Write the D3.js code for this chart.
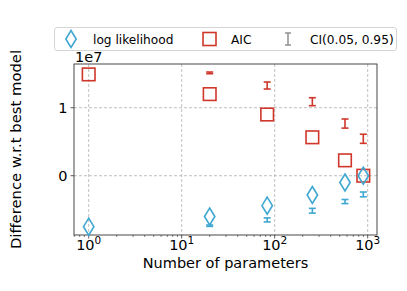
<!DOCTYPE html>
<html>
<head>
<meta charset="utf-8">
<script src="https://cdn.jsdelivr.net/npm/d3@7"></script>
<style>
  html, body { margin: 0; padding: 0; background: #fff; }
  svg { display: block; font-family: "DejaVu Sans", sans-serif; }
</style>
</head>
<body>
<div id="chart"></div>
<script>
// Number of parameters per model
var params = [1, 20, 83, 254, 570, 897];
// AIC difference w.r.t. best model (1e7 units)
var aic = [1.49, 1.20, 0.90, 0.565, 0.226, 0.0];
// log likelihood difference (1e7 units)
var logLik = [-0.75, -0.60, -0.44, -0.284, -0.10, 0.0];
// CI(0.05, 0.95) bounds, null where no bar is drawn
var aicLo = [null, 1.50, 1.275, 1.03, 0.70, 0.476];
var aicHi = [null, 1.525, 1.378, 1.147, 0.834, 0.61];
var llLo = [null, -0.745, -0.68, -0.55, -0.41, -0.31];
var llHi = [null, -0.725, -0.62, -0.48, -0.35, -0.24];
var xTicks = [1, 10, 100, 1000];
var yTicks = [0, 1];

var W = 407, H = 291;
var m = { left: 74, right: 30, top: 64, bottom: 56 };
var blue = '#3fa7d1', red = '#d0372a';

var svg = d3.select('#chart').append('svg')
    .attr('width', W).attr('height', H);

var x = d3.scaleLog().domain([0.695, 1259]).range([m.left, W - m.right]);
var y = d3.scaleLinear().domain([-0.872, 1.643]).range([H - m.bottom, m.top]);

// grid
var grid = svg.append('g');
grid.selectAll('line.gx').data(xTicks).enter().append('line')
    .attr('x1', function (d) { return x(d); }).attr('x2', function (d) { return x(d); })
    .attr('y1', m.top).attr('y2', H - m.bottom)
    .attr('stroke', '#b0b0b0').attr('stroke-width', 0.8).attr('stroke-dasharray', '3,2');
grid.selectAll('line.gy').data(yTicks).enter().append('line')
    .attr('y1', function (d) { return y(d); }).attr('y2', function (d) { return y(d); })
    .attr('x1', m.left).attr('x2', W - m.right)
    .attr('stroke', '#b0b0b0').attr('stroke-width', 0.8).attr('stroke-dasharray', '3,2');

// x axis with minor ticks
var minor = [];
[0.1, 1, 10, 100, 1000].forEach(function (b) {
    for (var k = 2; k <= 9; k++) {
        var v = b * k;
        if (v > x.domain()[0] && v < x.domain()[1]) minor.push(v);
    }
});
var xAxis = svg.append('g').attr('transform', 'translate(0,' + (H - m.bottom) + ')');
xAxis.selectAll('line.minor').data(minor).enter().append('line')
    .attr('x1', function (d) { return x(d); }).attr('x2', function (d) { return x(d); })
    .attr('y1', 0).attr('y2', 2).attr('stroke', '#333').attr('stroke-width', 0.6);
xAxis.selectAll('line.major').data(xTicks).enter().append('line')
    .attr('x1', function (d) { return x(d); }).attr('x2', function (d) { return x(d); })
    .attr('y1', 0).attr('y2', 3.5).attr('stroke', '#333').attr('stroke-width', 0.8);
var xl = xAxis.selectAll('text').data(xTicks).enter().append('text')
    .attr('x', function (d) { return x(d); }).attr('y', 15)
    .attr('text-anchor', 'middle').attr('font-size', 14.5).attr('fill', '#000');
xl.append('tspan').text('10');
xl.append('tspan').attr('dy', -6).attr('font-size', 10.5)
    .text(function (d) { return Math.round(Math.log10(d)); });

// y axis
var yAxis = svg.append('g');
yAxis.selectAll('line').data(yTicks).enter().append('line')
    .attr('x1', m.left - 3.5).attr('x2', m.left)
    .attr('y1', function (d) { return y(d); }).attr('y2', function (d) { return y(d); })
    .attr('stroke', '#333').attr('stroke-width', 0.8);
yAxis.selectAll('text').data(yTicks).enter().append('text')
    .attr('x', m.left - 6.5).attr('y', function (d) { return y(d) + 5.3; })
    .attr('text-anchor', 'end').attr('font-size', 14.5).text(function (d) { return d; });
svg.append('text').attr('x', m.left + 1).attr('y', m.top - 2)
    .attr('font-size', 14.5).text('1e7');

// frame
svg.append('rect').attr('x', m.left).attr('y', m.top)
    .attr('width', W - m.right - m.left).attr('height', H - m.bottom - m.top)
    .attr('fill', 'none').attr('stroke', '#333').attr('stroke-width', 0.9);

// labels
svg.append('text').attr('x', (m.left + W - m.right) / 2).attr('y', 268)
    .attr('text-anchor', 'middle').attr('font-size', 14.5).text('Number of parameters');
svg.append('text').attr('transform', 'translate(21,' + ((m.top + H - m.bottom) / 2) + ') rotate(-90)')
    .attr('text-anchor', 'middle').attr('font-size', 14.8).text('Difference w.r.t best model');

// error bars
function errbars(lo, hi, col) {
    var g = svg.append('g').attr('stroke', col).attr('stroke-width', 1.6).attr('fill', 'none');
    params.forEach(function (p, i) {
        if (lo[i] === null) return;
        var cx = x(p), y0 = y(lo[i]), y1 = y(hi[i]);
        g.append('line').attr('x1', cx).attr('x2', cx).attr('y1', y0).attr('y2', y1);
        g.append('line').attr('x1', cx - 3.5).attr('x2', cx + 3.5).attr('y1', y0).attr('y2', y0);
        g.append('line').attr('x1', cx - 3.5).attr('x2', cx + 3.5).attr('y1', y1).attr('y2', y1);
    });
}
errbars(aicLo, aicHi, red);
errbars(llLo, llHi, blue);

function diamond(cx, cy) {
    return 'M' + cx + ',' + (cy - 8.5) + 'L' + (cx + 5.2) + ',' + cy +
        'L' + cx + ',' + (cy + 8.5) + 'L' + (cx - 5.2) + ',' + cy + 'Z';
}

svg.append('g').selectAll('rect').data(params).enter().append('rect')
    .attr('x', function (d) { return x(d) - 6.3; })
    .attr('y', function (d, i) { return y(aic[i]) - 6.3; })
    .attr('width', 12.6).attr('height', 12.6)
    .attr('fill', 'none').attr('stroke', red).attr('stroke-width', 1.6);

svg.append('g').selectAll('path').data(params).enter().append('path')
    .attr('d', function (d, i) { return diamond(x(d), y(logLik[i])); })
    .attr('fill', 'none').attr('stroke', blue).attr('stroke-width', 1.6);

// legend
var lg = svg.append('g');
lg.append('rect').attr('x', 54.5).attr('y', 27.5).attr('width', 342).attr('height', 23)
    .attr('rx', 2.5).attr('fill', '#fff').attr('fill-opacity', 0.8)
    .attr('stroke', '#d0d0d0').attr('stroke-width', 0.9);
lg.append('path').attr('d', diamond(71, 39)).attr('fill', 'none')
    .attr('stroke', blue).attr('stroke-width', 1.6);
lg.append('text').attr('x', 93).attr('y', 43.5).attr('font-size', 12.2).text('log likelihood');
lg.append('rect').attr('x', 203).attr('y', 32.5).attr('width', 13).attr('height', 13)
    .attr('fill', 'none').attr('stroke', red).attr('stroke-width', 1.6);
lg.append('text').attr('x', 231).attr('y', 43.5).attr('font-size', 12.2).text('AIC');
var ci = lg.append('g').attr('stroke', '#888').attr('stroke-width', 1.4);
ci.append('line').attr('x1', 288).attr('x2', 288).attr('y1', 33).attr('y2', 45);
ci.append('line').attr('x1', 285).attr('x2', 291).attr('y1', 33).attr('y2', 33);
ci.append('line').attr('x1', 285).attr('x2', 291).attr('y1', 45).attr('y2', 45);
lg.append('text').attr('x', 310).attr('y', 43.5).attr('font-size', 12.2).text('CI(0.05, 0.95)');
</script>
</body>
</html>
